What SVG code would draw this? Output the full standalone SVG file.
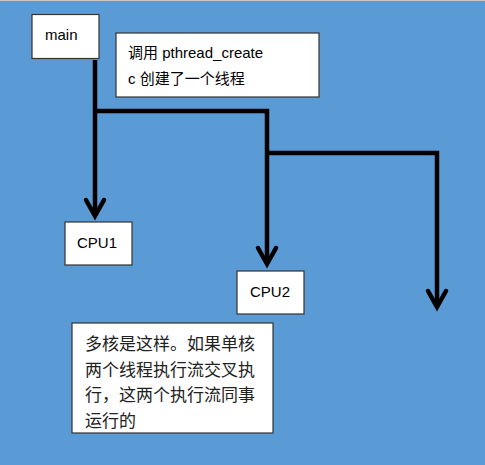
<svg xmlns="http://www.w3.org/2000/svg" width="485" height="465" viewBox="0 0 485 465">
<style>
.box{fill:#fff;stroke:#333;stroke-width:1.2}
.lbl{font-family:"Liberation Sans","Noto Sans CJK SC",sans-serif;font-size:15px;fill:#000}
.cjk{font-family:"Noto Sans CJK SC",sans-serif;font-size:17px;fill:#222}
.wire{fill:none;stroke:#000;stroke-width:4.5;stroke-linejoin:miter}
.head{fill:none;stroke:#000;stroke-width:4.5;stroke-linejoin:miter;stroke-linecap:round}
</style>
<rect x="0" y="0" width="485" height="465" fill="#5B9BD5"/>
<line x1="0" y1="0.5" x2="485" y2="0.5" stroke="#c8c8c8" stroke-width="1"/>
<g id="connectors">
<path class="wire" d="M95,60 V215"/>
<path class="wire" d="M95,111 H267 V262"/>
<path class="wire" d="M267,153 H437 V305"/>
<polyline class="head" points="86,200 95,216 104,200"/>
<polyline class="head" points="258,248 267,264 276,248"/>
<polyline class="head" points="428,291 437,307 446,291"/>
</g>
<g id="main">
<rect class="box" x="32" y="14.5" width="67" height="44"/>
<text class="lbl" x="45" y="40">main</text>
</g>
<g id="note1">
<rect class="box" x="116" y="33" width="203" height="64"/>
<text class="lbl" x="128" y="58" font-size="16">调用 pthread_create</text>
<text class="lbl" x="128" y="84" font-size="16">c 创建了一个线程</text>
</g>
<g id="cpu1">
<rect class="box" x="65" y="222" width="67" height="43"/>
<text class="lbl" x="77" y="248">CPU1</text>
</g>
<g id="cpu2">
<rect class="box" x="237" y="271" width="67" height="43"/>
<text class="lbl" x="250" y="297">CPU2</text>
</g>
<g id="note2">
<rect class="box" x="72" y="323" width="201" height="110"/>
<text class="cjk" x="85" y="350">多核是这样。如果单核</text>
<text class="cjk" x="85" y="376">两个线程执行流交叉执</text>
<text class="cjk" x="85" y="401">行，这两个执行流同事</text>
<text class="cjk" x="85" y="427">运行的</text>
</g>
</svg>
